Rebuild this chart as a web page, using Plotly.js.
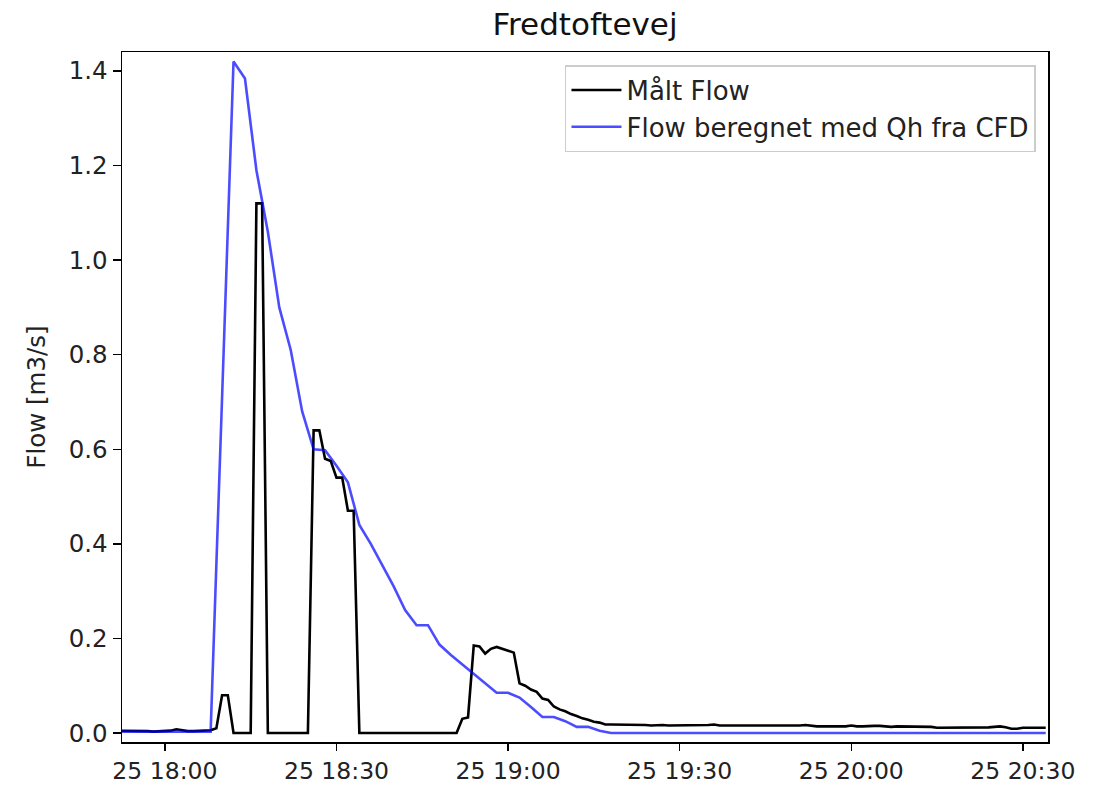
<!DOCTYPE html>
<html>
<head>
<meta charset="utf-8">
<script src="https://cdn.plot.ly/plotly-3.0.1.min.js"></script>
<style>
  html, body { margin: 0; padding: 0; background: #fff; }
  #chart { width: 1102px; height: 785px; }
</style>
</head>
<body>
<div id="chart"></div>
<script>
// Measured flow, 1-minute samples from 25 17:52 onwards
const measuredStart = '2021-08-25 17:52';
const measuredFlow = [
  0.005, 0.005, 0.004, 0.005, 0.004, 0.004, 0.003, 0.004,        // 17:52-17:59
  0.004, 0.005, 0.008, 0.006, 0.004, 0.004, 0.005, 0.005, 0.006, 0.010, // 18:00-18:09
  0.08, 0.08, 0, 0, 0, 0, 1.12, 1.12, 0, 0,                        // 18:10-18:19
  0, 0, 0, 0, 0, 0, 0.64, 0.64, 0.58, 0.575,                      // 18:20-18:29
  0.54, 0.54, 0.47, 0.47, 0, 0, 0, 0, 0, 0,                        // 18:30-18:39
  0, 0, 0, 0, 0, 0, 0, 0, 0, 0,                                    // 18:40-18:49
  0, 0, 0.03, 0.033, 0.185, 0.183, 0.168, 0.178, 0.182, 0.178,    // 18:50-18:59
  0.173, 0.17, 0.105, 0.10, 0.092, 0.087, 0.073, 0.07, 0.056, 0.05, // 19:00-19:09
  0.046, 0.04, 0.036, 0.031, 0.028, 0.024, 0.022, 0.018, 0.018, 0.018, // 19:10-19:19
  0.017, 0.017, 0.017, 0.017, 0.017, 0.016, 0.017, 0.017, 0.016, 0.016, // 19:20-19:29
  0.016, 0.016, 0.016, 0.017, 0.016, 0.017, 0.018, 0.016, 0.016, 0.016, // 19:30-19:39
  0.015, 0.015, 0.016, 0.016, 0.015, 0.015, 0.016, 0.015, 0.015, 0.015, // 19:40-19:49
  0.015, 0.016, 0.017, 0.015, 0.014, 0.014, 0.014, 0.015, 0.014, 0.014, // 19:50-19:59
  0.016, 0.014, 0.014, 0.015, 0.015, 0.015, 0.014, 0.013, 0.014, 0.014, // 20:00-20:09
  0.014, 0.014, 0.014, 0.013, 0.013, 0.011, 0.011, 0.011, 0.011, 0.012, // 20:10-20:19
  0.012, 0.012, 0.011, 0.011, 0.012, 0.013, 0.014, 0.012, 0.009, 0.009, // 20:20-20:29
  0.011, 0.011, 0.011, 0.011, 0.011                                // 20:30-20:34
];
const measuredStepMin = 1;

// Flow computed with Qh from CFD, 2-minute samples from 17:52
const cfdStart = '2021-08-25 17:52';
const cfdFlow = [
  0.003, 0.003, 0.003, 0.002, 0.002, 0.002, 0.002, 0.002, 0.003,  // 17:52-18:08
  0.71, 1.42, 1.384, 1.19, 1.06, 0.90, 0.81, 0.68, 0.60, 0.598,   // 18:10-18:28
  0.565, 0.53, 0.44, 0.40, 0.355, 0.31, 0.26, 0.228, 0.228, 0.187, // 18:30-18:48
  0.165, 0.145, 0.125, 0.104, 0.085, 0.085, 0.075, 0.055, 0.034, 0.034, // 18:50-19:08
  0.025, 0.013, 0.013, 0.005, 0,                                    // 19:10-19:18
  0, 0, 0, 0, 0, 0, 0, 0, 0, 0,                                     // 19:20-19:38
  0, 0, 0, 0, 0, 0, 0, 0, 0, 0,                                     // 19:40-19:58
  0, 0, 0, 0, 0, 0, 0, 0, 0, 0,                                     // 20:00-20:18
  0, 0, 0, 0, 0, 0, 0, 0                                            // 20:20-20:34
];
const cfdStepMin = 2;

const tickVals = ['2021-08-25 18:00', '2021-08-25 18:30', '2021-08-25 19:00',
                  '2021-08-25 19:30', '2021-08-25 20:00', '2021-08-25 20:30'];
const tickText = ['25 18:00', '25 18:30', '25 19:00', '25 19:30', '25 20:00', '25 20:30'];
const yTicks = [0, 0.2, 0.4, 0.6, 0.8, 1.0, 1.2, 1.4];

function pad(n) { return (n < 10 ? '0' : '') + n; }
function timeAxis(start, stepMin, count) {
  const base = new Date(start.replace(' ', 'T') + ':00Z').getTime();
  const out = [];
  for (let i = 0; i < count; i++) {
    const d = new Date(base + i * stepMin * 60000);
    out.push(d.getUTCFullYear() + '-' + pad(d.getUTCMonth() + 1) + '-' + pad(d.getUTCDate()) +
             ' ' + pad(d.getUTCHours()) + ':' + pad(d.getUTCMinutes()));
  }
  return out;
}

const FONT = 'DejaVu Sans, Liberation Sans, sans-serif';

const traces = [
  {
    x: timeAxis(measuredStart, measuredStepMin, measuredFlow.length),
    y: measuredFlow,
    type: 'scatter', mode: 'lines', name: 'Målt Flow',
    line: { color: '#000000', width: 2.6 }
  },
  {
    x: timeAxis(cfdStart, cfdStepMin, cfdFlow.length),
    y: cfdFlow,
    type: 'scatter', mode: 'lines', name: 'Flow beregnet med Qh fra CFD',
    line: { color: 'rgba(0,0,255,0.7)', width: 2.6 }
  }
];

const layout = {
  width: 1102, height: 785,
  paper_bgcolor: '#ffffff', plot_bgcolor: '#ffffff',
  margin: { l: 122, r: 54, t: 52, b: 43, pad: 0 },
  font: { family: FONT, size: 24, color: '#222' },
  title: {
    text: 'Fredtoftevej', font: { family: FONT, size: 31, color: '#111' },
    x: 0.5, xref: 'paper', xanchor: 'center',
    y: 1 - 24 / 785, yref: 'container', yanchor: 'middle'
  },
  showlegend: true,
  legend: {
    x: 0.987, xanchor: 'right', y: 0.981, yanchor: 'top',
    bgcolor: 'rgba(255,255,255,0.8)', bordercolor: '#cccccc', borderwidth: 1.5,
    font: { family: FONT, size: 26, color: '#222' },
    itemwidth: 50
  },
  xaxis: {
    type: 'date',
    range: ['2021-08-25 17:52:30', '2021-08-25 20:34:24'],
    tickmode: 'array', tickvals: tickVals, ticktext: tickText,
    showgrid: false, zeroline: false,
    showline: true, linecolor: '#000', linewidth: 1.5, mirror: true,
    ticks: 'outside', ticklen: 7, tickwidth: 1.5, tickcolor: '#000',
    tickfont: { family: FONT, size: 23.5, color: '#222' }
  },
  yaxis: {
    range: [-0.019, 1.44],
    tickmode: 'array', tickvals: yTicks, tickformat: '.1f',
    showgrid: false, zeroline: false,
    showline: true, linecolor: '#000', linewidth: 1.5, mirror: true,
    ticks: 'outside', ticklen: 8, tickwidth: 1.5, tickcolor: '#000',
    tickfont: { family: FONT, size: 24.5, color: '#222' },
    title: { text: 'Flow [m3/s]', font: { family: FONT, size: 24.5, color: '#222' }, standoff: 16 }
  }
};

Plotly.newPlot('chart', traces, layout, { displayModeBar: false, staticPlot: true });
</script>
</body>
</html>
